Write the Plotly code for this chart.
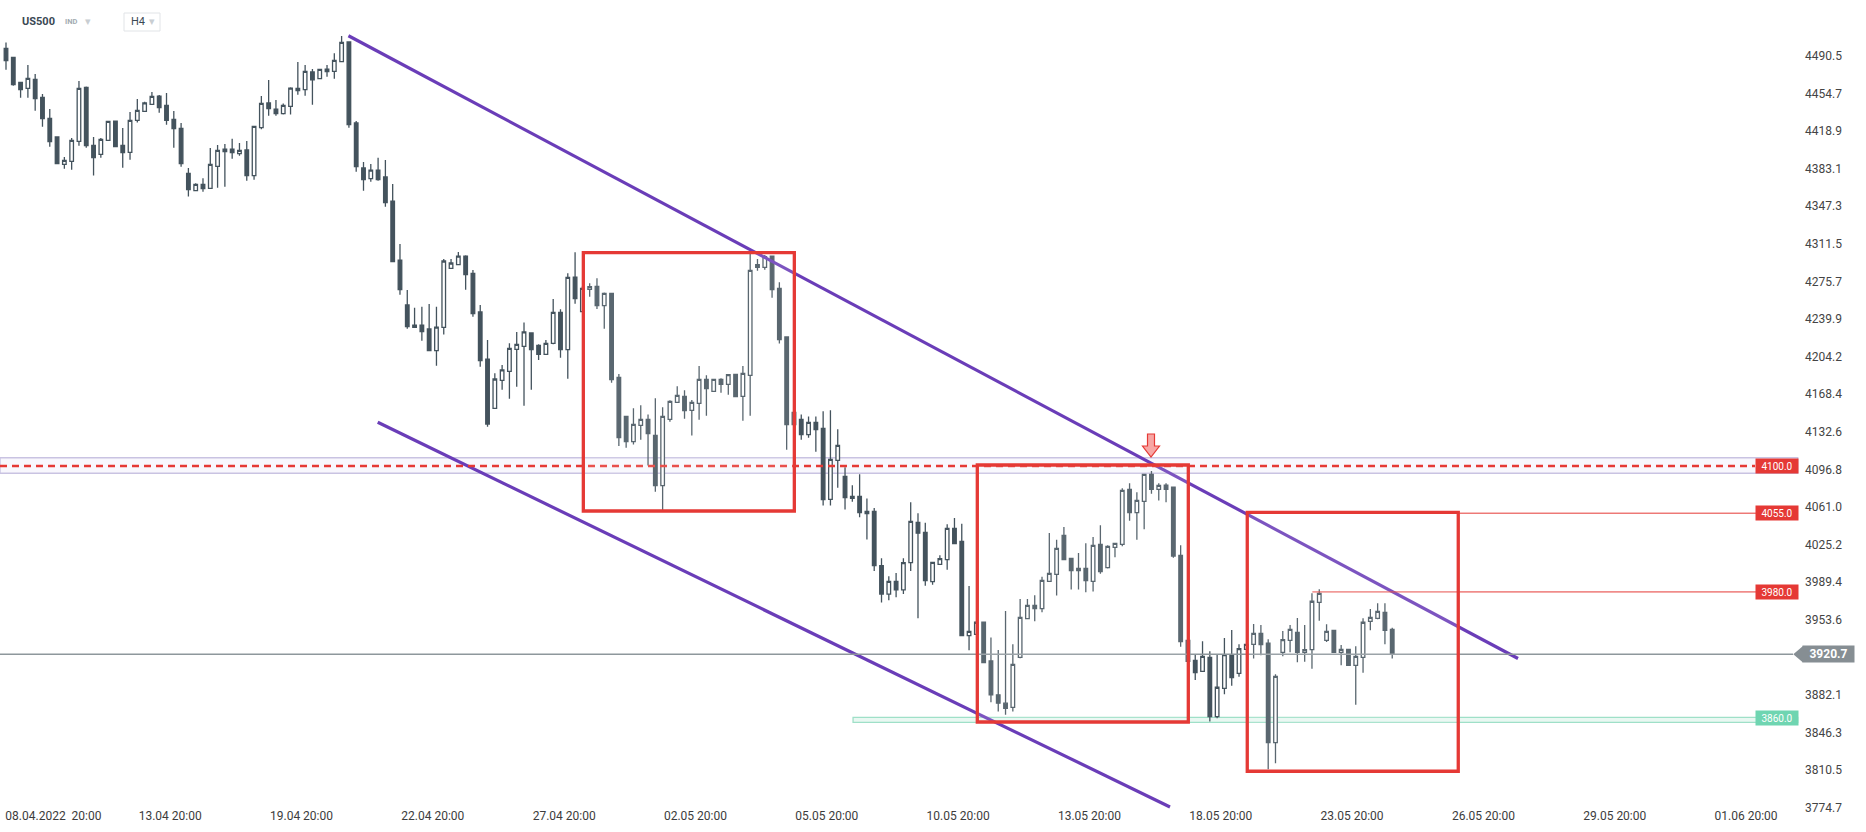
import plotly.graph_objects as go

# US500, H4 candles (x = candle number, weekends / holidays removed)
candle = list(range(191))

open_ = [
    4497.7, 4489.2, 4465.3, 4459.6, 4468.2, 4451.1, 4431.1, 4413.3, 4387.2, 4390.1,
    4409.2, 4460.6, 4405.3, 4396.8, 4410.1, 4428.5, 4405.3, 4398.7, 4429.2, 4437.7,
    4444.4, 4452.3, 4443.4, 4430.1, 4421.5, 4378.7, 4362.2, 4368.2, 4364.4, 4385.3,
    4401.8, 4401.8, 4397.4, 4400.9, 4376.5, 4422.2, 4445.7, 4439.9, 4435.5, 4442.5,
    4457.4, 4458.4, 4475.2, 4468.8, 4478.0, 4475.8, 4485.0, 4503.8, 4426.6, 4383.8,
    4373.6, 4381.8, 4375.2, 4352.3, 4296.1, 4253.3, 4234.2, 4234.2, 4230.4, 4209.8,
    4232.0, 4288.2, 4291.7, 4299.9, 4283.4, 4246.6, 4201.8, 4154.9, 4181.5, 4190.1,
    4211.1, 4213.9, 4226.6, 4214.9, 4206.3, 4216.8, 4246.3, 4210.7, 4279.9, 4246.9,
    4268.2, 4271.0, 4252.6, 4264.4, 4184.4, 4147.2, 4123.1, 4138.7, 4144.4, 4129.1,
    4081.2, 4144.4, 4160.6, 4166.3, 4153.0, 4159.6, 4182.5, 4171.0, 4182.5, 4177.7,
    4187.2, 4166.3, 4186.3, 4291.7, 4289.1, 4299.9, 4269.1, 4222.8, 4151.1, 4144.4,
    4129.8, 4141.5, 4135.8, 4068.2, 4105.3, 4090.1, 4069.1, 4071.1, 4056.8, 4056.8,
    4005.0, 3978.0, 3990.0, 3982.0, 4008.0, 4046.3, 4036.8, 3989.8, 4006.3, 4010.7,
    4040.6, 4028.2, 3938.4, 3939.6, 3951.1, 3914.2, 3882.0, 3874.0, 3870.0, 3917.7,
    3954.5, 3967.2, 3964.1, 3990.1, 3996.8, 4033.9, 4012.0, 4000.3, 4002.5, 3990.1,
    4025.3, 4003.1, 4022.5, 4025.3, 4077.7, 4055.5, 4066.3, 4092.0, 4077.7, 4081.8,
    4079.9, 4014.9, 3933.9, 3914.9, 3904.4, 3917.7, 3861.2, 3888.2, 3920.3, 3902.5,
    3925.3, 3930.1, 3940.6, 3931.1, 3836.5, 3922.5, 3933.9, 3941.5, 3922.5, 3925.0,
    3970.1, 3933.9, 3943.4, 3922.5, 3925.3, 3910.1, 3917.7, 3952.0, 3954.9, 3960.6,
    3944.4,
]
high = [
    4503.4, 4489.6, 4465.8, 4481.8, 4473.3, 4454.2, 4439.9, 4413.9, 4394.2, 4412.3,
    4466.6, 4461.5, 4413.3, 4412.3, 4428.7, 4429.0, 4421.9, 4437.1, 4449.5, 4446.9,
    4456.1, 4453.3, 4455.2, 4438.0, 4426.6, 4383.8, 4369.2, 4373.9, 4402.8, 4405.7,
    4406.6, 4411.7, 4407.6, 4409.5, 4423.9, 4452.3, 4467.6, 4448.5, 4445.3, 4460.6,
    4484.7, 4481.8, 4478.0, 4478.2, 4481.8, 4493.0, 4509.5, 4504.2, 4428.5, 4389.5,
    4387.6, 4393.6, 4391.4, 4368.5, 4311.4, 4267.6, 4250.7, 4251.7, 4254.2, 4251.7,
    4297.1, 4297.1, 4303.8, 4300.6, 4286.6, 4253.3, 4219.9, 4188.2, 4196.1, 4216.8,
    4227.6, 4236.5, 4227.2, 4215.8, 4219.9, 4259.0, 4249.2, 4283.4, 4303.4, 4271.0,
    4273.9, 4278.7, 4265.3, 4265.0, 4187.6, 4147.8, 4154.9, 4157.7, 4149.1, 4164.4,
    4155.8, 4162.5, 4175.8, 4172.0, 4162.8, 4195.2, 4186.3, 4183.0, 4183.4, 4187.3,
    4187.6, 4195.2, 4302.5, 4297.1, 4300.9, 4300.5, 4274.9, 4223.3, 4151.6, 4149.1,
    4147.2, 4147.2, 4152.0, 4153.0, 4134.9, 4098.7, 4081.5, 4092.0, 4069.1, 4060.0,
    4012.0, 3995.0, 3998.0, 4012.0, 4065.3, 4054.9, 4046.0, 4008.7, 4014.9, 4044.4,
    4050.4, 4045.0, 3985.7, 3952.0, 3951.7, 3936.5, 3924.7, 3961.9, 3930.1, 3973.3,
    3973.3, 3976.8, 3994.5, 4036.1, 4029.8, 4041.8, 4012.5, 4017.1, 4026.3, 4032.3,
    4043.4, 4024.4, 4026.8, 4078.7, 4083.4, 4074.9, 4092.5, 4095.2, 4083.4, 4083.4,
    4080.4, 4024.4, 3934.5, 3920.3, 3933.0, 3923.4, 3920.6, 3936.1, 3943.8, 3930.1,
    3930.6, 3949.5, 3948.5, 3934.9, 3901.5, 3942.8, 3948.5, 3955.2, 3948.5, 3978.7,
    3982.5, 3949.2, 3944.0, 3929.5, 3925.8, 3928.2, 3954.9, 3963.8, 3969.2, 3969.2,
    3946.0,
]
low = [
    4477.4, 4462.2, 4450.7, 4450.7, 4438.4, 4423.1, 4404.1, 4387.5, 4383.1, 4382.2,
    4405.0, 4403.1, 4376.5, 4393.6, 4409.6, 4403.6, 4384.1, 4391.7, 4427.2, 4437.2,
    4443.9, 4436.5, 4425.0, 4403.1, 4385.0, 4356.5, 4361.5, 4361.2, 4363.9, 4365.0,
    4366.0, 4392.6, 4395.5, 4371.7, 4372.6, 4420.6, 4433.6, 4433.6, 4434.6, 4434.6,
    4453.6, 4452.6, 4444.1, 4468.2, 4470.7, 4468.8, 4484.5, 4422.2, 4380.3, 4362.2,
    4370.7, 4371.7, 4346.9, 4294.0, 4263.1, 4230.7, 4231.5, 4219.3, 4209.3, 4195.5,
    4225.3, 4287.8, 4291.2, 4267.9, 4242.2, 4194.5, 4137.4, 4154.4, 4172.6, 4164.1,
    4175.5, 4157.4, 4172.6, 4200.9, 4205.8, 4215.8, 4203.1, 4183.1, 4254.5, 4246.4,
    4261.2, 4249.5, 4230.7, 4179.3, 4119.0, 4117.4, 4120.3, 4125.0, 4100.3, 4075.5,
    4058.0, 4142.2, 4160.1, 4145.0, 4129.1, 4144.1, 4147.9, 4170.5, 4169.8, 4167.9,
    4165.5, 4143.1, 4147.9, 4286.0, 4286.9, 4260.3, 4216.5, 4115.5, 4138.8, 4125.0,
    4126.9, 4113.6, 4062.2, 4062.2, 4079.3, 4058.4, 4066.0, 4051.1, 4030.0, 4000.0,
    3970.0, 3972.0, 3975.0, 3978.0, 4000.0, 3955.0, 3986.0, 3986.9, 4005.8, 4001.2,
    4025.5, 3937.8, 3924.4, 3939.0, 3912.0, 3875.0, 3866.0, 3863.0, 3866.0, 3916.8,
    3954.0, 3952.0, 3960.6, 3989.6, 3976.5, 4010.2, 3982.2, 3982.2, 3979.6, 3980.3,
    3997.4, 4002.2, 4013.0, 4023.4, 4047.9, 4029.8, 4039.6, 4073.6, 4067.0, 4065.3,
    4012.6, 3927.9, 3913.3, 3896.1, 3903.9, 3856.5, 3859.6, 3882.5, 3890.7, 3899.3,
    3924.8, 3916.5, 3919.6, 3811.1, 3816.8, 3918.7, 3922.5, 3913.0, 3913.6, 3906.9,
    3952.6, 3932.3, 3922.0, 3910.1, 3909.6, 3872.6, 3903.1, 3943.4, 3953.9, 3930.1,
    3916.5,
]
close = [
    4486.0, 4463.1, 4458.4, 4469.2, 4449.8, 4430.7, 4408.8, 4387.9, 4391.1, 4410.1,
    4459.6, 4405.0, 4393.6, 4411.1, 4428.2, 4404.1, 4398.4, 4429.2, 4438.7, 4445.7,
    4452.0, 4441.2, 4429.2, 4421.2, 4387.9, 4363.1, 4368.2, 4364.1, 4387.2, 4400.6,
    4399.3, 4398.4, 4400.6, 4376.5, 4423.4, 4445.3, 4440.3, 4435.5, 4443.4, 4459.9,
    4459.6, 4475.8, 4467.6, 4477.7, 4475.5, 4486.3, 4503.4, 4425.0, 4385.0, 4372.6,
    4381.8, 4372.6, 4350.7, 4294.5, 4267.9, 4232.6, 4232.0, 4227.9, 4209.8, 4232.3,
    4295.2, 4293.3, 4299.9, 4282.2, 4245.0, 4200.3, 4139.9, 4182.8, 4191.4, 4212.0,
    4215.8, 4227.6, 4210.7, 4206.3, 4216.8, 4246.3, 4210.7, 4279.6, 4259.3, 4269.1,
    4270.7, 4252.6, 4264.4, 4182.2, 4126.9, 4123.1, 4139.6, 4144.4, 4130.7, 4081.2,
    4147.2, 4161.5, 4167.2, 4152.6, 4160.6, 4182.5, 4173.6, 4182.5, 4177.7, 4186.9,
    4166.0, 4188.2, 4286.3, 4289.1, 4299.3, 4267.9, 4220.3, 4139.3, 4139.3, 4129.8,
    4141.5, 4134.5, 4067.9, 4106.3, 4119.6, 4069.8, 4071.1, 4055.5, 4054.5, 4005.0,
    3978.0, 3990.0, 3982.0, 4008.0, 4047.2, 4036.0, 3990.7, 4008.2, 4011.7, 4040.6,
    4026.0, 3938.4, 3942.5, 3951.1, 3912.6, 3882.0, 3874.0, 3869.0, 3911.0, 3955.8,
    3967.2, 3964.1, 3991.1, 3997.7, 4021.5, 4010.7, 4000.3, 4002.5, 3990.7, 4024.4,
    3999.3, 4023.4, 4026.3, 4076.8, 4055.5, 4067.2, 4092.0, 4077.7, 4081.5, 4077.7,
    4014.2, 3932.6, 3913.9, 3903.1, 3918.7, 3861.2, 3889.2, 3920.3, 3898.4, 3926.0,
    3930.1, 3940.6, 3929.8, 3836.5, 3899.6, 3934.6, 3944.4, 3922.5, 3925.0, 3971.1,
    3978.7, 3942.5, 3922.5, 3925.3, 3910.1, 3918.7, 3951.1, 3955.8, 3961.5, 3943.4,
    3920.7,
]

# axis labels
date_ticks = [6.5, 22.5, 40.5, 58.5, 76.5, 94.5, 112.5, 130.5, 148.5, 166.5, 184.5, 202.5, 220.5, 238.5]
date_labels = ['08.04.2022 \u00a020:00', '13.04 20:00', '19.04 20:00', '22.04 20:00', '27.04 20:00',
               '02.05 20:00', '05.05 20:00', '10.05 20:00', '13.05 20:00', '18.05 20:00',
               '23.05 20:00', '26.05 20:00', '29.05 20:00', '01.06 20:00']
price_ticks = [4490.5, 4454.7, 4418.9, 4383.1, 4347.3, 4311.5, 4275.7, 4239.9, 4204.2, 4168.4,
               4132.6, 4096.8, 4061.0, 4025.2, 3989.4, 3953.6, 3882.1, 3846.3, 3810.5, 3774.7]

# drawings
last_price = 3920.7
resistance = 4100.0
red_levels = [4055.0, 3980.0]
red_level_start = [199.05, 179.05]   # candle where each thin level line begins
support = 3860.0
upper_channel_x = [46.94, 207.24]
upper_channel_y = [4509.7, 3916.6]
lower_channel_x = [50.95, 159.54]
lower_channel_y = [4141.6, 3775.2]
boxes = [(79.13, 108.05, 4057.1, 4303.1),
         (133.13, 162.05, 3856.1, 4100.9),
         (170.13, 199.05, 3809.2, 4055.8)]

DARK = '#44535d'
RED = '#e53935'
PURPLE = '#6a3db8'
FONT = 'Roboto, Arial, sans-serif'

# plot area in page pixels
W, H = 1866, 832
ML, MR, MT, MB = 0, 66, 28, 20
PW, PH = W - ML - MR, H - MT - MB
X_RANGE = [-0.822, 245.89]
Y_RANGE = [3770.4, 4517.1]


def px(x):
    return (x - ML) / PW


def py(y):
    return (H - MB - y) / PH


def cx(x):
    # page pixel -> candle number
    return X_RANGE[0] + (x - ML) / PW * (X_RANGE[1] - X_RANGE[0])


fig = go.Figure()

fig.add_trace(go.Candlestick(
    x=candle, open=open_, high=high, low=low, close=close,
    increasing=dict(line=dict(color=DARK, width=1.3), fillcolor='white'),
    decreasing=dict(line=dict(color=DARK, width=1.3), fillcolor=DARK),
    whiskerwidth=0, showlegend=False, hoverinfo='skip'
))

for xs, ys in [(upper_channel_x, upper_channel_y), (lower_channel_x, lower_channel_y)]:
    fig.add_trace(go.Scatter(x=xs, y=ys, mode='lines', line=dict(color=PURPLE, width=3.2),
                             showlegend=False, hoverinfo='skip'))

shapes = []
# 4100 zone
shapes.append(dict(type='rect', xref='paper', yref='y', x0=0, x1=px(1797.7), y0=4093.0, y1=4107.8,
                   fillcolor='#f8f7fd', line=dict(color='#c9c3e2', width=1.4), layer='below'))
shapes.append(dict(type='line', xref='paper', yref='y', x0=0, x1=px(1755), y0=resistance, y1=resistance,
                   line=dict(color=RED, width=2.5, dash='7px,5px')))
# support zone
shapes.append(dict(type='rect', xref='x', yref='y', x0=116.1, x1=cx(1797.7), y0=3855.8, y1=3860.6,
                   fillcolor='#e9f8f2', line=dict(color='#9fe0c8', width=1.3), layer='below'))
# thin red levels
for lvl, start in zip(red_levels, red_level_start):
    shapes.append(dict(type='line', xref='x', yref='y', x0=start, x1=cx(1756), y0=lvl, y1=lvl,
                       line=dict(color=RED, width=1)))
# last price
shapes.append(dict(type='line', xref='paper', yref='y', x0=0, x1=px(1793), y0=last_price, y1=last_price,
                   line=dict(color='#8e979c', width=1.5)))
# boxes
for x0, x1, y0, y1 in boxes:
    shapes.append(dict(type='rect', xref='x', yref='y', x0=x0, x1=x1, y0=y0, y1=y1,
                       fillcolor='rgba(255,255,255,0.12)', line=dict(color=RED, width=3.3), layer='above'))
# price tag arrow
tip_y = 469.3 + (4096.8 - last_price) * 1.05
shapes.append(dict(type='path', xref='paper', yref='paper',
                   path=f'M{px(1793.3)},{py(tip_y)} L{px(1803)},{py(tip_y - 8.2)} '
                        f'L{px(1803)},{py(tip_y + 8.2)} Z',
                   fillcolor='#868e93', line=dict(width=0)))
# red down arrow at the channel touch
ax = 1151
pts = [(ax - 3.5, 434), (ax + 3.5, 434), (ax + 3.5, 446), (ax + 8.5, 446), (ax, 457),
       (ax - 8.5, 446), (ax - 3.5, 446)]
path = 'M' + ' L'.join(f'{px(a)},{py(b)}' for a, b in pts) + ' Z'
shapes.append(dict(type='path', xref='paper', yref='paper', path=path,
                   fillcolor='#f7a6a4', line=dict(color=RED, width=1.2)))
# H4 selector box
shapes.append(dict(type='rect', xref='paper', yref='paper', x0=px(124), x1=px(160), y0=py(31), y1=py(13),
                   fillcolor='white', line=dict(color='#e1e4e7', width=1)))

annotations = []
for lvl, color in [(resistance, RED), (red_levels[0], RED), (red_levels[1], RED), (support, '#6fd5b1')]:
    annotations.append(dict(xref='paper', yref='y', x=px(1777), y=lvl, xanchor='center', yanchor='middle',
                            text=f'{lvl:.1f}', showarrow=False,
                            font=dict(family=FONT, size=10, color='white'), bgcolor=color,
                            width=40, height=12, borderpad=1))
annotations.append(dict(xref='paper', yref='y', x=px(1828.5), y=last_price, xanchor='center', yanchor='middle',
                        text=f'<b>{last_price:.1f}</b>', showarrow=False,
                        font=dict(family=FONT, size=12, color='white'), bgcolor='#868e93',
                        width=49, height=14, borderpad=1))
# header
header = [(20, '<b>US500</b>', 11, '#3b4954'), (63, '<b>IND</b>', 7.5, '#a3abb1'),
          (83, '▾', 11, '#c9ced2'), (129, 'H4', 11, '#3b4954'), (147, '▾', 11, '#c9ced2')]
for hx, txt, size, color in header:
    annotations.append(dict(xref='paper', yref='paper', x=px(hx), y=py(22), xanchor='left', yanchor='middle',
                            text=txt, showarrow=False, font=dict(family=FONT, size=size, color=color)))

fig.update_layout(
    width=W, height=H,
    margin=dict(l=ML, r=MR, t=MT, b=MB, pad=0),
    paper_bgcolor='white', plot_bgcolor='white',
    font=dict(family=FONT, size=12, color='#404040'),
    showlegend=False,
    shapes=shapes,
    annotations=annotations,
    xaxis=dict(range=X_RANGE, rangeslider=dict(visible=False), showgrid=False, zeroline=False,
               showline=False, ticks='', tickvals=date_ticks, ticktext=date_labels,
               tickfont=dict(size=12, color='#3c3c3c'), ticklabelstandoff=-5,
               automargin=False, fixedrange=True),
    yaxis=dict(range=Y_RANGE, side='right', showgrid=False, zeroline=False, showline=False, ticks='',
               tickvals=price_ticks, ticktext=[f'{v:.1f}' for v in price_ticks],
               tickfont=dict(size=12, color='#444444'), ticklabelstandoff=4, automargin=False,
               fixedrange=True),
)

fig.write_html('out.html', config={'displayModeBar': False},
               post_script="document.body.style.margin='0';document.body.style.overflow='hidden';")
